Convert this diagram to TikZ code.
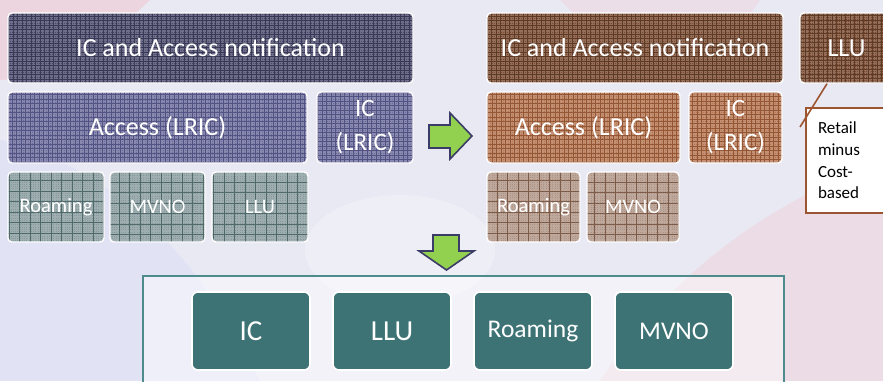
\documentclass[tikz,border=0pt]{standalone}
\usepackage{fontspec}
\setmainfont{Carlito}
\definecolor{bgbase}{HTML}{E9E9F4}
\definecolor{navyF}{HTML}{4A4A6C}
\definecolor{navyL}{HTML}{2E2E4C}
\definecolor{purpF}{HTML}{6C6C9C}
\definecolor{purpL}{HTML}{46467A}
\definecolor{gtealF}{HTML}{86999B}
\definecolor{gtealL}{HTML}{3E5A5C}
\definecolor{brdF}{HTML}{7A4A30}
\definecolor{brdL}{HTML}{52301C}
\definecolor{brmF}{HTML}{B47550}
\definecolor{brmL}{HTML}{8A4A28}
\definecolor{brlF}{HTML}{AE9384}
\definecolor{brlL}{HTML}{6E4A36}
\definecolor{tealF}{HTML}{3E7376}
\definecolor{tealB}{HTML}{4E8B8C}
\definecolor{arrG}{HTML}{92D050}
\definecolor{arrB}{HTML}{3B3B68}
\definecolor{callB}{HTML}{9C5530}
\tikzset{
  blk/.style={rectangle, rounded corners=4pt, draw=white, line width=1.4pt,
    inner sep=0pt, text=white, align=center},
  tex/.style n args={3}{path picture={
    \draw[white, opacity=0.2, line width=0.5pt, step=1.8pt]
      (path picture bounding box.south west) grid (path picture bounding box.north east);
    \draw[#2, opacity=0.8, line width=#1, step=#3]
      (path picture bounding box.south west) grid (path picture bounding box.north east);}},
  bigtxt/.style={font=\fontsize{26}{34}\selectfont},
  midtxt/.style={font=\fontsize{25}{34}\selectfont},
  smltxt/.style={font=\fontsize{20.5}{24}\selectfont},
  botbox/.style={blk, fill=tealF, minimum width=118pt, minimum height=78pt, rounded corners=6pt, line width=1.6pt},
  garrow/.style={fill=arrG, draw=arrB, line width=1.6pt, line join=miter},
}
\begin{document}
\begin{tikzpicture}[x=1pt,y=-1pt]
\clip (0,0) rectangle (883,381);
% background
\fill[bgbase] (0,0) rectangle (883,381);
\fill[red!60!white, opacity=0.15] (0,0) -- (150,0) -- (70,75) -- (0,80) -- cycle;
\fill[blue!30!white, opacity=0.12] (0,140) .. controls (120,170) and (200,260) .. (260,381) -- (0,381) -- cycle;
\fill[white, opacity=0.25] (400,250) ellipse (95pt and 55pt);
\fill[red!50!white, opacity=0.12] (600,381) .. controls (680,260) and (780,200) .. (883,160) -- (883,381) -- cycle;
\fill[red!50!white, opacity=0.10] (560,0) -- (760,0) -- (720,60) -- (600,40) -- cycle;

% left group
\node[blk, fill=navyF, tex={1pt}{navyL}{4.5pt}, minimum width=405pt, minimum height=70pt, bigtxt] (lnot) at (210.5,48) {IC and Access notification};
\node[blk, fill=purpF, tex={1pt}{purpL}{4.5pt}, minimum width=299pt, minimum height=71pt, bigtxt] (lacc) at (157.5,127.5) {Access (LRIC)};
\node[blk, fill=purpF, tex={1pt}{purpL}{4.5pt}, minimum width=96pt, minimum height=71pt, midtxt] (lic) at (365,127.5) {IC\\(LRIC)};
\node[blk, fill=gtealF, tex={0.9pt}{gtealL}{10.5pt}, minimum width=96pt, minimum height=70pt, smltxt] (lroam) at (56,207) {Roaming};
\node[blk, fill=gtealF, tex={0.9pt}{gtealL}{10.5pt}, minimum width=95pt, minimum height=70pt, smltxt] (lmvno) at (157.5,207) {MVNO};
\node[blk, fill=gtealF, tex={0.9pt}{gtealL}{10.5pt}, minimum width=96pt, minimum height=70pt, smltxt] (lllu) at (260,207) {LLU};

% right group
\node[blk, fill=brdF, tex={1pt}{brdL}{4.5pt}, minimum width=296pt, minimum height=70pt, bigtxt] (rnot) at (635,48) {IC and Access notification};
\node[blk, fill=brdF, tex={1pt}{brdL}{4.5pt}, minimum width=93pt, minimum height=70pt, bigtxt] (rllu) at (846.5,48) {LLU};
\node[blk, fill=brmF, tex={1pt}{brmL}{4.5pt}, minimum width=193pt, minimum height=71pt, bigtxt] (racc) at (583.5,127.5) {Access (LRIC)};
\node[blk, fill=brmF, tex={1pt}{brmL}{4.5pt}, minimum width=93pt, minimum height=71pt, midtxt] (ric) at (735.5,127.5) {IC\\(LRIC)};
\node[blk, fill=brlF, tex={0.9pt}{brlL}{10.5pt}, minimum width=93pt, minimum height=70pt, smltxt] (rroam) at (533.5,207) {Roaming};
\node[blk, fill=brlF, tex={0.9pt}{brlL}{10.5pt}, minimum width=92pt, minimum height=70pt, smltxt] (rmvno) at (633,207) {MVNO};

% callout
\node[rectangle, draw=callB, fill=white, line width=2pt, anchor=north west,
  minimum width=100pt, minimum height=105pt, inner xsep=12pt, text width=76pt,
  align=left, font=\fontsize{17}{21.7}\selectfont] (call) at (805,107) {Retail\\minus\\Cost-\\based};
\coordinate (cend) at (800,127);
\draw[callB, line width=1.6pt] ([xshift=-19.5pt]rllu.south) -- (cend);

% arrows
\draw[garrow] (429,125) -- (450,125) -- (450,113) -- (472,136) -- (450,159) -- (450,148) -- (429,148) -- cycle;
\draw[garrow] (433,235) -- (459,235) -- (459,251) -- (474,251) -- (446.5,270) -- (419,251) -- (433,251) -- cycle;

% bottom frame
\node[rectangle, draw=tealB, fill=white, fill opacity=0.45, draw opacity=1, line width=2pt,
  minimum width=641pt, minimum height=130pt, anchor=north west] (frame) at (142,275) {};
\node[botbox, font=\fontsize{29}{34}\selectfont] (bic) at (251,331) {IC};
\node[botbox, font=\fontsize{29}{34}\selectfont] (bllu) at (392,331) {LLU};
\node[botbox, font=\fontsize{25.5}{30}\selectfont] (broam) at (533,331) {Roaming};
\node[botbox, font=\fontsize{25.5}{30}\selectfont] (bmvno) at (674,331) {MVNO};
\end{tikzpicture}
\end{document}
